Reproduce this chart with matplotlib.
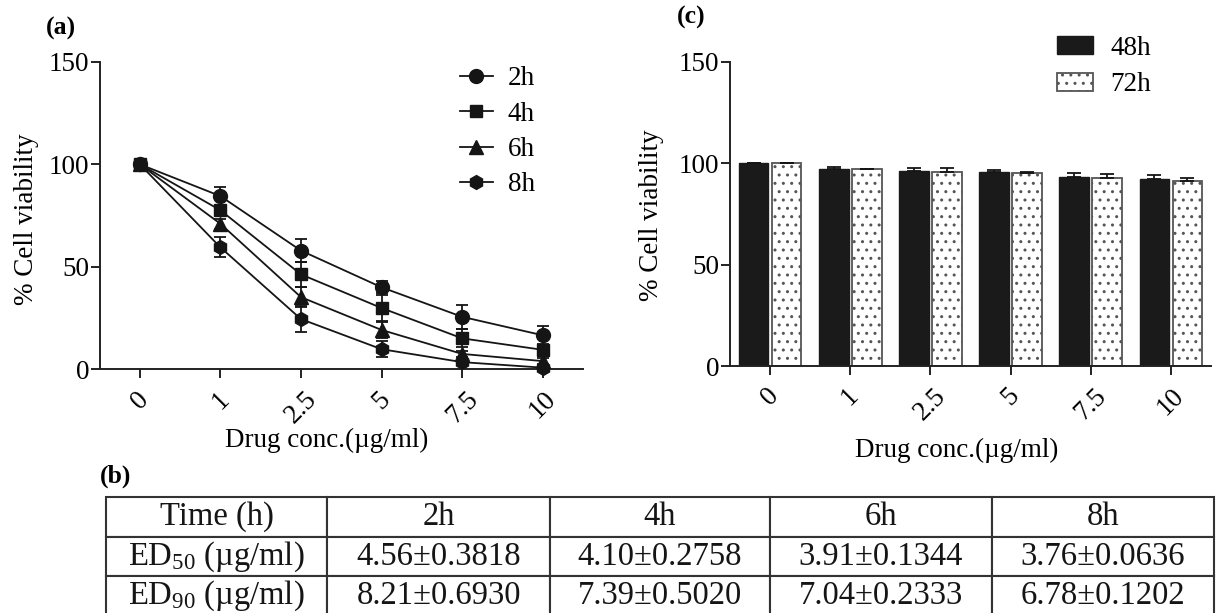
import numpy as np
import matplotlib
matplotlib.use("Agg")
import matplotlib.pyplot as plt

plt.rcParams["font.family"] = ["Liberation Serif", "DejaVu Serif"]
plt.rcParams["mathtext.fontset"] = "custom"
plt.rcParams["mathtext.rm"] = "Liberation Serif"
plt.rcParams["mathtext.it"] = "Liberation Serif:italic"
plt.rcParams["mathtext.default"] = "regular"
plt.rcParams["hatch.linewidth"] = 1.0

# drug concentrations (ug/ml) used as categories
conc = ["0", "1", "2.5", "5", "7.5", "10"]

# (a) % cell viability, short exposures
via_2h = [100, 84.5, 57.9, 40.0, 25.6, 16.6]
err_2h = [0, 4.6, 5.5, 2.9, 5.7, 4.5]
via_4h = [100, 77.6, 46.3, 29.9, 15.1, 9.5]
err_4h = [0, 2.0, 6.0, 6.3, 4.4, 2.0]
via_6h = [100, 71.0, 35.2, 19.2, 7.5, 4.0]
err_6h = [0, 2.5, 5.0, 4.0, 1.5, 1.5]
via_8h = [100, 59.5, 24.5, 9.8, 3.5, 0.8]
err_8h = [0, 4.9, 6.2, 3.9, 1.0, 1.0]

# (c) % cell viability, long exposures
via_48h = [100, 96.9, 96.3, 95.4, 93.3, 92.0]
err_48h = [0, 1.3, 1.3, 1.2, 2.0, 2.0]
via_72h = [100, 97.0, 95.8, 95.0, 92.6, 91.4]
err_72h = [0, 0.3, 2.0, 0.8, 2.1, 1.3]

# (b) ED values
table_head = ["Time (h)", "2h", "4h", "6h", "8h"]
ed50 = ["4.56±0.3818", "4.10±0.2758", "3.91±0.1344", "3.76±0.0636"]
ed90 = ["8.21±0.6930", "7.39±0.5020", "7.04±0.2333", "6.78±0.1202"]

W, H = 1218, 613
fig = plt.figure(figsize=(W / 100, H / 100), dpi=100)
fs = 19.5
ink = "#151515"
x = np.arange(len(conc))


def style_axes(ax):
    for s in ["top", "right"]:
        ax.spines[s].set_visible(False)
    for s in ["left", "bottom"]:
        ax.spines[s].set_linewidth(1.4)
        ax.spines[s].set_color("#222222")
    ax.set_xlim(-0.5, len(conc) - 0.5)
    ax.set_ylim(0, 150)
    ax.set_yticks([0, 50, 100, 150])
    ax.set_xticks(x)
    ax.set_xticklabels(conc, rotation=45)
    ax.tick_params(axis="both", labelsize=fs, length=6.5, width=1.4, color="#222222")
    ax.tick_params(axis="y", pad=1)
    ax.tick_params(axis="x", pad=6)
    ax.set_ylabel("% Cell viability", fontsize=fs)
    ax.set_xlabel("Drug conc.(µg/ml)", fontsize=fs, va="top")


# ---- (a) line chart ----
ax = fig.add_axes([99.5 / W, (H - 369.3) / H, 483.5 / W, 307.5 / H])
style_axes(ax)
series = [
    ("2h", via_2h, err_2h, "o", 10, 3),
    ("4h", via_4h, err_4h, "s", 9, 6),
    ("6h", via_6h, err_6h, "^", 10, 4),
    ("8h", via_8h, err_8h, "h", 10, 5),
]
for lab, v, e, m, ms, z in series:
    ax.errorbar(x, v, yerr=e, fmt="none", ecolor=ink, elinewidth=1.3,
                capsize=4.4, capthick=1.3, zorder=2, clip_on=False)
    ax.plot(x, v, color=ink, lw=1.3, marker=m, ms=ms, mfc=ink, mec=ink,
            label=lab, zorder=z, clip_on=False)
ax.legend(loc="upper left", bbox_to_anchor=(0.7456, 0.985), frameon=False,
          fontsize=fs, handlelength=1.21, handletextpad=0.55, labelspacing=0.38,
          borderpad=0, borderaxespad=0)
ax.yaxis.set_label_coords(-0.125, 0.489)
ax.xaxis.set_label_coords(0.47, -0.191)

# ---- (c) grouped bars ----
axc = fig.add_axes([730 / W, (H - 366) / H, 481 / W, 304.3 / H])
style_axes(axc)
bw = 0.37
zeros = np.zeros(len(conc))
axc.bar(x - 0.205, via_48h, bw, color="#1a1a1a", edgecolor="#1a1a1a",
        linewidth=1.0, label="48h", zorder=2)
axc.bar(x + 0.205, via_72h, bw, color="white", edgecolor="#555555",
        hatch="..", linewidth=1.3, label="72h", zorder=2)
axc.errorbar(x - 0.205, via_48h, yerr=[zeros, err_48h], fmt="none", ecolor=ink,
             elinewidth=1.3, capsize=4.8, capthick=1.3, zorder=3)
axc.errorbar(x + 0.205, via_72h, yerr=[zeros, err_72h], fmt="none", ecolor=ink,
             elinewidth=1.3, capsize=4.8, capthick=1.3, zorder=3)
axc.legend(loc="upper left", bbox_to_anchor=(0.679, 1.085), frameon=False,
           fontsize=fs, handlelength=1.33, handleheight=0.64, handletextpad=0.65,
           labelspacing=0.42, borderpad=0, borderaxespad=0)
axc.yaxis.set_label_coords(-0.137, 0.496)
axc.xaxis.set_label_coords(0.472, -0.235)

# ---- (b) table ----
axt = fig.add_axes([106 / W, -3 / H, 1108 / W, 119 / H])
axt.axis("off")
rows = [table_head,
        ["ED$_{50}$ (µg/ml)"] + ed50,
        ["ED$_{90}$ (µg/ml)"] + ed90]
tb = axt.table(cellText=rows, cellLoc="center",
               colWidths=[221, 223, 220, 222, 222], bbox=[0, 0, 1, 1])
tb.auto_set_font_size(False)
for (r, c), cell in tb.get_celld().items():
    cell.set_linewidth(1.5)
    cell.set_edgecolor("#333333")
    cell.get_text().set_fontsize(23.5)
    cell.get_text().set_color(ink)

# panel letters
fig.text(46 / W, 1 - 28 / H, "(a)", fontsize=18.5, fontweight="bold", va="center")
fig.text(677 / W, 1 - 17 / H, "(c)", fontsize=18.5, fontweight="bold", va="center")
fig.text(100 / W, 1 - 476 / H, "(b)", fontsize=18.5, fontweight="bold", va="center")

fig.savefig("out.png", dpi=100)
